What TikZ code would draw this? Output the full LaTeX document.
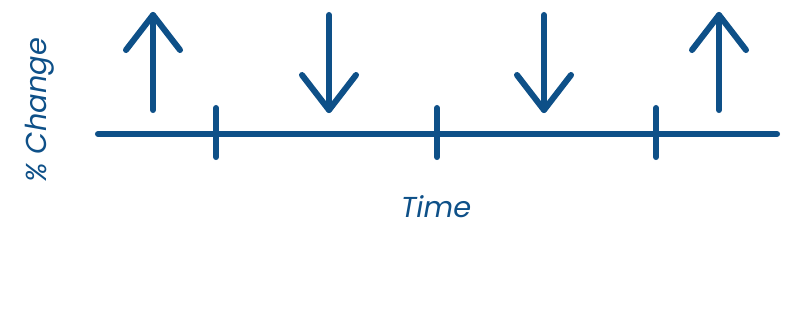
\documentclass[tikz,border=0pt]{standalone}
\usepackage{fontspec}
\setmainfont{Poppins}
\usetikzlibrary{positioning,calc}
\definecolor{chartblue}{RGB}{14, 80, 136}

\begin{document}
\begin{tikzpicture}[
        x=0.025cm, y=-0.025cm,
        stroke/.style={draw=chartblue, line width=4.3pt, line cap=round, line join=round},
        label/.style={text=chartblue, font=\fontsize{20.5}{24}\selectfont\itshape, inner sep=0pt}
    ]
        \useasboundingbox (0,0) rectangle (800,312);

        % Axis
        \coordinate (axisL) at (98,134);
        \coordinate (axisR) at (777,134);
        \draw[stroke] (axisL) -- (axisR);

        % Ticks
        \foreach \tx/\tn in {216/a, 437/b, 656/c} {
            \coordinate (tick\tn top) at (\tx,108);
            \coordinate (tick\tn bot) at (\tx,157);
            \draw[stroke] (tick\tn top) -- (tick\tn bot);
        }

        % Up arrows
        \foreach \ax/\an in {153/one, 719/four} {
            \coordinate (\an tip) at (\ax,15);
            \coordinate (\an end) at (\ax,110);
            \draw[stroke] (\an end) -- (\an tip);
            \draw[stroke] ($(\an tip)+(-27,35)$) -- (\an tip) -- ($(\an tip)+(27,35)$);
        }

        % Down arrows
        \foreach \ax/\an in {329/two, 544/three} {
            \coordinate (\an end) at (\ax,15);
            \coordinate (\an tip) at (\ax,110);
            \draw[stroke] (\an end) -- (\an tip);
            \draw[stroke] ($(\an tip)+(-27,-35)$) -- (\an tip) -- ($(\an tip)+(27,-35)$);
        }

        % Labels
        \node[label, rotate=90] (ylab) at (40,110) {\% Change};
        \node[label] (xlab) at (436,207) {Time};
    \end{tikzpicture}
\end{document}
